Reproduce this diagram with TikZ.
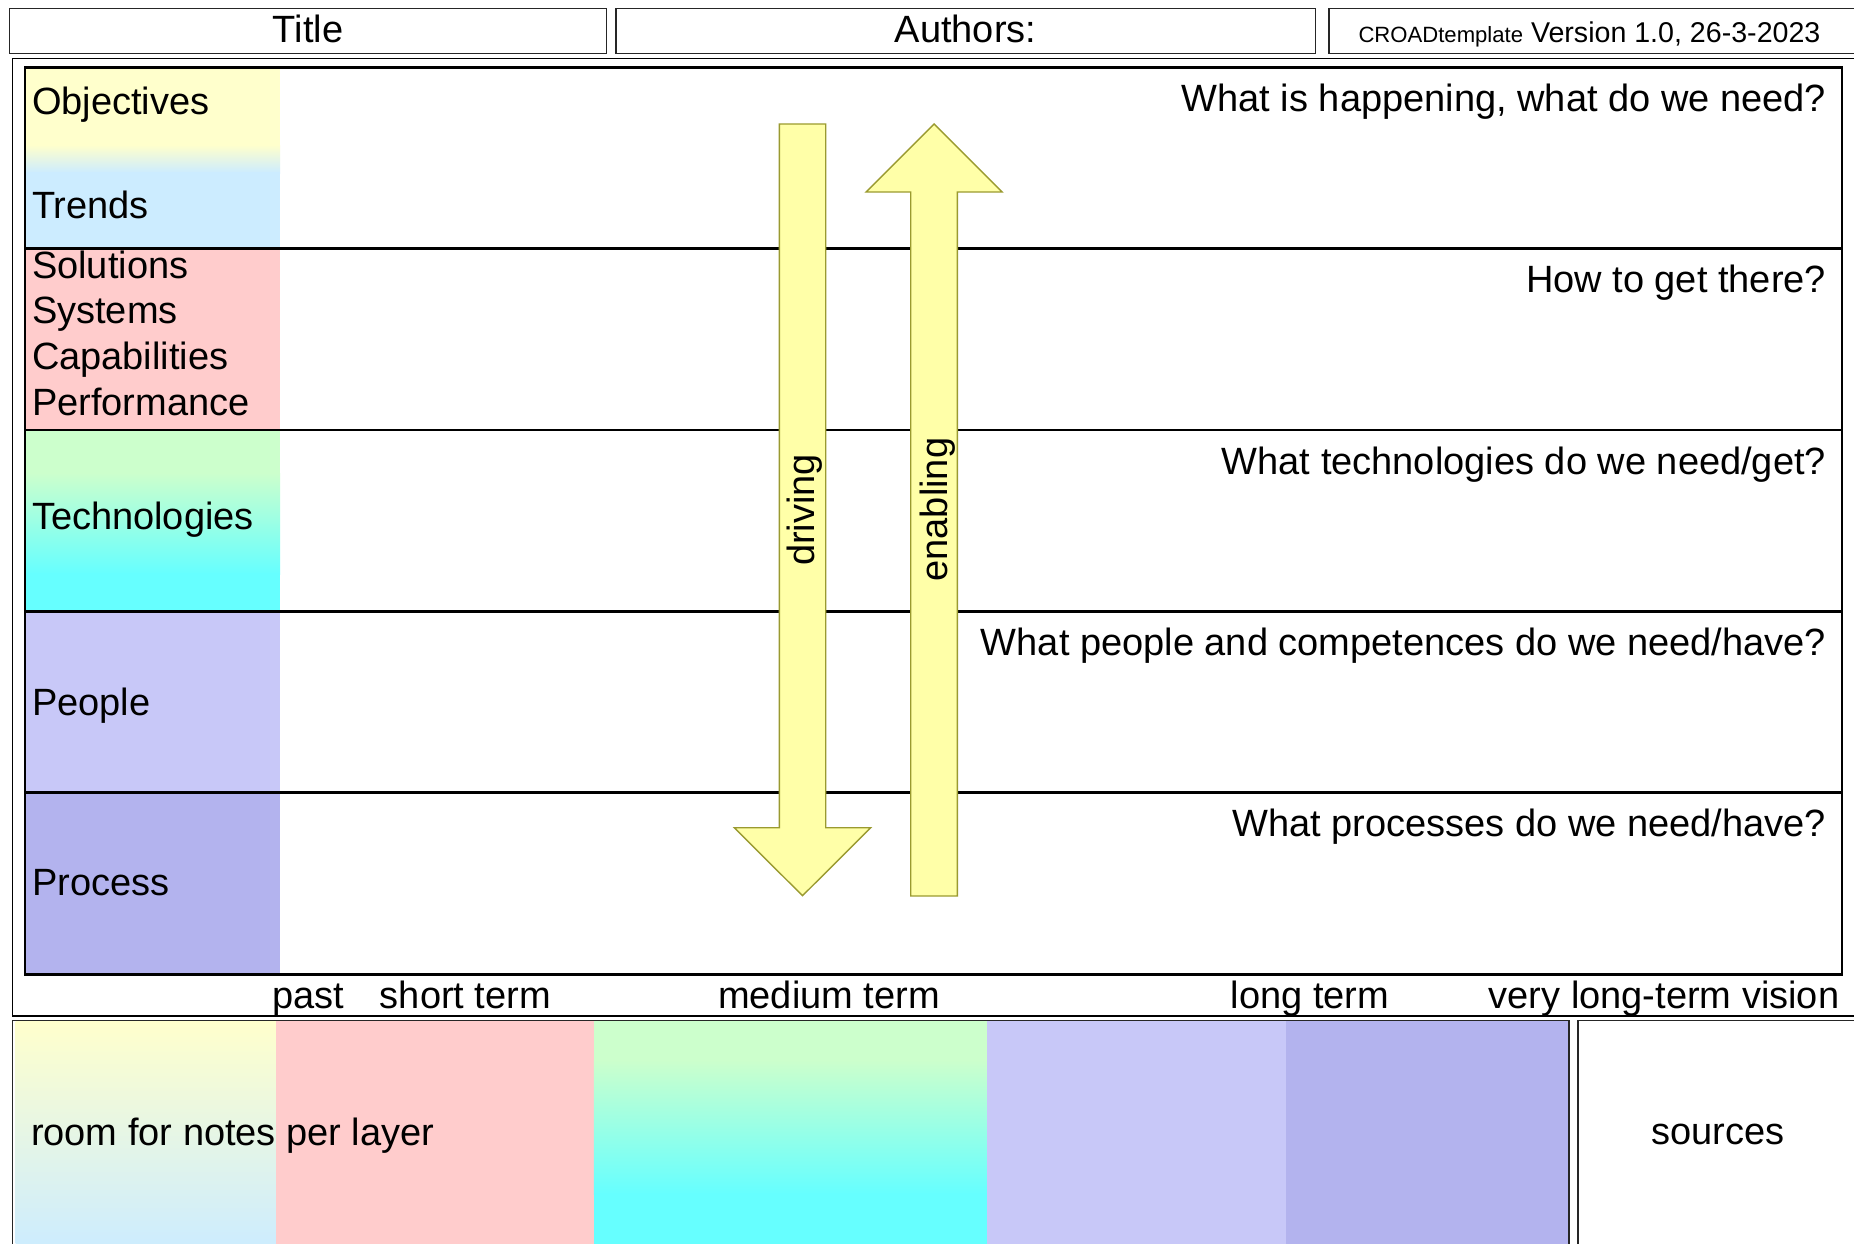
\documentclass[tikz,border=0pt]{standalone}
\usepackage{fontspec}
\setmainfont{Liberation Sans}
\definecolor{cyel}{HTML}{FFFFCC}
\definecolor{cblue}{HTML}{CCECFF}
\definecolor{cpink}{HTML}{FFCCCC}
\definecolor{cgreen}{HTML}{CCFFCC}
\definecolor{ccyan}{HTML}{66FFFF}
\definecolor{clav}{HTML}{C8C8F8}
\definecolor{cdlav}{HTML}{B3B3EE}
\definecolor{arrowyellow}{HTML}{FFFFA8}
\definecolor{arrowedge}{HTML}{9A9A30}
\begin{document}
\begin{tikzpicture}[x=1pt,y=-1pt,
  thinbox/.style={draw=black!85,line width=1.3pt},
  thickline/.style={draw=black,line width=2.8pt},
  lbl/.style={inner sep=0pt,outer sep=0pt,font=\fontsize{38}{44}\selectfont},
  blockarrow/.style={fill=arrowyellow,draw=arrowedge,line width=1.4pt,line join=miter}]
\path[use as bounding box] (0,0) rectangle (1854,1244);
\clip (0,0) rectangle (1854,1244);
\fill[white] (0,0) rectangle (1854,1244);

% header boxes
\draw[thinbox] (9.5,8.3) rectangle (606.6,53.2);
\draw[thinbox] (616,8.3) rectangle (1315.5,53.2);
\draw[thinbox] (1329,8.3) rectangle (1870,53.2);
\node[lbl,anchor=base] (title) at (308,43) {Title};
\node[lbl,anchor=base] (authors) at (965.5,43) {Authors:};
\node[lbl,anchor=base west,font=\fontsize{28.6}{33}\selectfont] (version) at (1358.5,43)
  {{\fontsize{22.1}{26}\selectfont CROADtemplate} Version 1.0, 26-3-2023};

% outer frame
\draw[black,line width=1.1pt] (12.5,58.3) rectangle (1870,1016);

% left column colours
\fill[cyel] (25,67.4) rectangle (280,146);
\shade[top color=cyel,bottom color=cblue] (25,145) rectangle (280,173);
\fill[cblue] (25,172) rectangle (280,248.7);
\fill[cpink] (25,248.7) rectangle (280,430);
\fill[cgreen] (25,430) rectangle (280,474);
\shade[top color=cgreen,bottom color=ccyan] (25,473) rectangle (280,574);
\fill[ccyan] (25,573) rectangle (280,611.3);
\fill[clav] (25,611.3) rectangle (280,792.6);
\fill[cdlav] (25,792.6) rectangle (280,974.3);

% row lines and main box
\foreach \yy in {248.7,430,611.3,792.6}
  \draw[thickline] (25,\yy) -- (1842,\yy);
\draw[thickline] (25,67.4) rectangle (1842,974.3);

% block arrows
\draw[blockarrow] (779.3,124) -- (825.7,124) -- (825.7,827.7) -- (870.7,827.7)
  -- (802.5,895.7) -- (734.3,827.7) -- (779.3,827.7) -- cycle;
\draw[blockarrow] (934,124) -- (1002,192) -- (957.3,192) -- (957.3,896)
  -- (910.7,896) -- (910.7,192) -- (866,192) -- cycle;
\node[lbl,rotate=90,anchor=base] (driving) at (814,510) {driving};
\node[lbl,rotate=90,anchor=base] (enabling) at (947,509.6) {enabling};

% left labels
\node[lbl,anchor=base west] (objectives) at (32,115) {Objectives};
\node[lbl,anchor=base west] (trends) at (32,218.3) {Trends};
\node[lbl,anchor=base west] (solutions) at (32,278.3) {Solutions};
\node[lbl,anchor=base west] (systems) at (32,323.5) {Systems};
\node[lbl,anchor=base west] (capabilities) at (32,369.7) {Capabilities};
\node[lbl,anchor=base west] (performance) at (32,415.8) {Performance};
\node[lbl,anchor=base west] (technologies) at (32,529.3) {Technologies};
\node[lbl,anchor=base west] (people) at (32,715) {People};
\node[lbl,anchor=base west] (process) at (32,895.7) {Process};

% questions
\node[lbl,anchor=base east] (q1) at (1826,111.5) {What is happening, what do we need?};
\node[lbl,anchor=base east] (q2) at (1826,292.8) {How to get there?};
\node[lbl,anchor=base east] (q3) at (1826,474.1) {What technologies do we need/get?};
\node[lbl,anchor=base east] (q4) at (1826,655.4) {What people and competences do we need/have?};
\node[lbl,anchor=base east] (q5) at (1826,836.7) {What processes do we need/have?};

% timeline
\node[lbl,anchor=base] (past) at (308,1008.3) {past};
\node[lbl,anchor=base] (short) at (465.5,1008.3) {short term};
\node[lbl,anchor=base] (medium) at (829,1008.3) {medium term};
\node[lbl,anchor=base] (long) at (1310,1008.3) {long term};
\node[lbl,anchor=base] (vision) at (1664,1008.3) {very long-term vision};

% bottom panels
\shade[top color=cyel,bottom color=cblue] (15.6,1021) rectangle (276,1250);
\fill[cpink] (276,1021) rectangle (593.8,1250);
\fill[cgreen] (593.8,1021) rectangle (987,1061);
\shade[top color=cgreen,bottom color=ccyan] (593.8,1060) rectangle (987,1194);
\fill[ccyan] (593.8,1193) rectangle (987,1250);
\fill[clav] (987,1021) rectangle (1285.5,1250);
\fill[cdlav] (1285.5,1021) rectangle (1569,1250);
\draw[thinbox] (12.5,1020.7) rectangle (1569,1260);
\draw[thinbox] (1578,1020.7) rectangle (1870,1260);
\node[lbl,anchor=base west] (notes) at (31,1145) {room for notes per layer};
\node[lbl,anchor=base] (sources) at (1718,1144) {sources};
\end{tikzpicture}
\end{document}
